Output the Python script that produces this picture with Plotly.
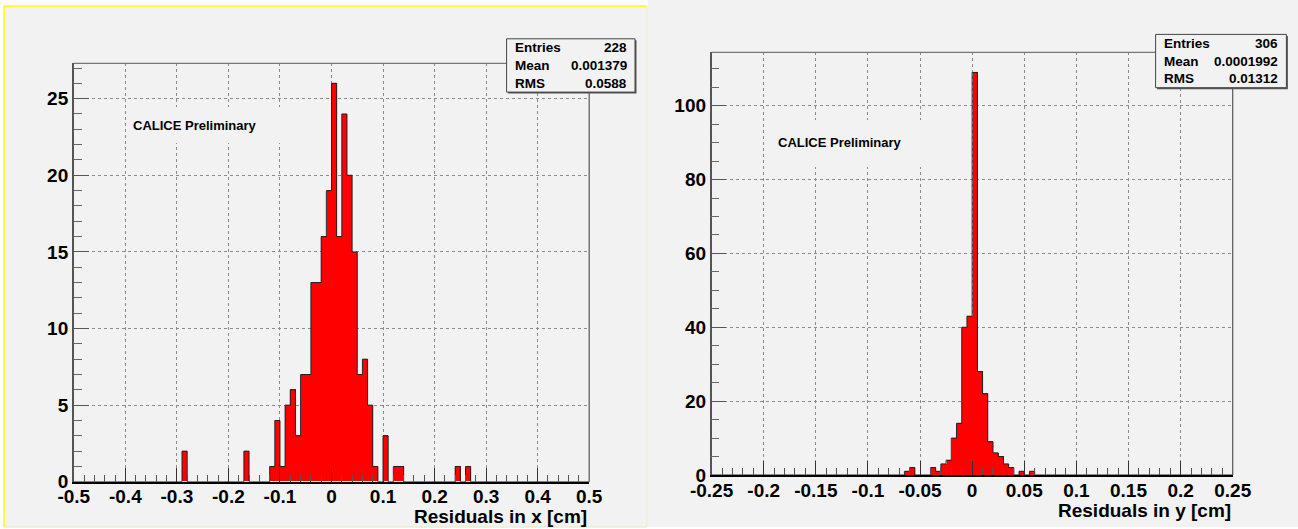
import numpy as np
import plotly.graph_objects as go

# ---------------- data: residual histograms ----------------
# x residuals: 100 bins of 0.01 cm on [-0.5, 0.5]; only non-empty bins listed (bin low edge, count)
x_range = (-0.5, 0.5)
x_bin_width = 0.01
x_bin_low = [-0.29, -0.17, -0.12, -0.11, -0.10, -0.09, -0.08, -0.07, -0.06, -0.05,
             -0.04, -0.03, -0.02, -0.01, 0.00, 0.01, 0.02, 0.03, 0.04, 0.05,
             0.06, 0.07, 0.08, 0.10, 0.12, 0.13, 0.24, 0.26]
x_counts = [2, 2, 1, 4, 1, 5, 6, 3, 7, 7,
            13, 13, 16, 19, 26, 16, 24, 20, 15, 7,
            8, 5, 1, 3, 1, 1, 1, 1]
x_stats = [("Entries", "228"), ("Mean", "0.001379"), ("RMS", "0.0588")]
x_ticks = [-0.5, -0.4, -0.3, -0.2, -0.1, 0, 0.1, 0.2, 0.3, 0.4, 0.5]
x_tick_labels = ["-0.5", "-0.4", "-0.3", "-0.2", "-0.1", "0", "0.1", "0.2", "0.3", "0.4", "0.5"]
x_count_ticks = [0, 5, 10, 15, 20, 25]

# y residuals: 100 bins of 0.005 cm on [-0.25, 0.25]
y_range = (-0.25, 0.25)
y_bin_width = 0.005
y_bin_low = [-0.065, -0.060, -0.040, -0.035, -0.030, -0.025, -0.020, -0.015, -0.010, -0.005,
             0.000, 0.005, 0.010, 0.015, 0.020, 0.025, 0.030, 0.035, 0.045, 0.055]
y_counts = [1, 2, 2, 1, 3, 4, 10, 14, 40, 43,
            109, 28, 22, 9, 6, 5, 3, 2, 1, 1]
y_stats = [("Entries", "306"), ("Mean", "0.0001992"), ("RMS", "0.01312")]
y_ticks = [-0.25, -0.2, -0.15, -0.1, -0.05, 0, 0.05, 0.1, 0.15, 0.2, 0.25]
y_tick_labels = ["-0.25", "-0.2", "-0.15", "-0.1", "-0.05", "0", "0.05", "0.1", "0.15", "0.2", "0.25"]
y_count_ticks = [0, 20, 40, 60, 80, 100]

# ---------------- helpers ----------------
W, H = 1298, 529
BG = "#f2f2f2"
FONT = "Liberation Sans"


def px(x):
    return x / W


def py(y):
    return 1 - y / H


def fill_bins(lo, hi, width, lows, counts):
    n = int(round((hi - lo) / width))
    edges = lo + width * np.arange(n + 1)
    full = np.zeros(n)
    for l, c in zip(lows, counts):
        full[int(round((l - lo) / width))] = c
    return edges, full


def outline(edges, counts):
    xs, ys = [edges[0]], [0.0]
    for i, c in enumerate(counts):
        xs += [edges[i], edges[i + 1]]
        ys += [c, c]
    xs.append(edges[-1])
    ys.append(0.0)
    return xs, ys


fig = go.Figure()

panels = [
    dict(edges_counts=fill_bins(*x_range, x_bin_width, x_bin_low, x_counts), width=x_bin_width,
         xa="x", ya="y"),
    dict(edges_counts=fill_bins(*y_range, y_bin_width, y_bin_low, y_counts), width=y_bin_width,
         xa="x2", ya="y2"),
]

for p in panels:
    edges, full = p["edges_counts"]
    centers = 0.5 * (edges[:-1] + edges[1:])
    fig.add_trace(go.Bar(x=centers, y=full, width=p["width"], marker=dict(color="#ff0000", line=dict(width=0)),
                         xaxis=p["xa"], yaxis=p["ya"], showlegend=False, hoverinfo="skip"))
    ox, oy = outline(edges, full)
    fig.add_trace(go.Scatter(x=ox, y=oy, mode="lines", line=dict(color="#222222", width=1),
                             xaxis=p["xa"], yaxis=p["ya"], showlegend=False, hoverinfo="skip"))

# plot-frame pixel geometry
L = dict(x0=73.8, x1=589.2, y0=63.4, y1=481.8)
R = dict(x0=711.6, x1=1232.7, y0=52.3, y1=475.0)

tickfont = dict(family=FONT, size=19, color="black", weight="bold")
grid = dict(showgrid=True, gridcolor="#8c8c8c", griddash="dot", gridwidth=1, zeroline=False)


def xaxis_cfg(frame, rng, ticks, labels, minor_dt):
    return dict(domain=[px(frame["x0"]), px(frame["x1"])], range=list(rng), tickmode="array",
                tickvals=ticks, ticktext=labels, ticks="inside", ticklen=14, tickwidth=1,
                tickcolor="#333333", tickfont=tickfont, ticklabelstandoff=-3,
                showline=True, linecolor="black", linewidth=1.5,
                minor=dict(tickmode="linear", tick0=rng[0], dtick=minor_dt, ticks="inside", ticklen=7,
                           tickwidth=1, tickcolor="#555555", showgrid=False),
                automargin=False, fixedrange=True, **grid)


def yaxis_cfg(frame, top, ticks, minor_dt):
    return dict(domain=[py(frame["y1"]), py(frame["y0"])], range=[0, top], tickmode="array",
                tickvals=ticks, ticktext=[str(t) for t in ticks], ticks="inside", ticklen=15, tickwidth=1,
                tickcolor="#555555", tickfont=tickfont, showline=True, linecolor="#555555", linewidth=1.5,
                minor=dict(tickmode="linear", tick0=0, dtick=minor_dt, ticks="inside", ticklen=8,
                           tickwidth=1, tickcolor="#666666", showgrid=False),
                automargin=False, fixedrange=True, **grid)


shapes = []
annotations = []

# canvas backgrounds
shapes.append(dict(type="rect", xref="paper", yref="paper", x0=px(4), x1=px(647), y0=py(527), y1=py(6),
                   fillcolor=BG, line=dict(width=0), layer="below"))
shapes.append(dict(type="rect", xref="paper", yref="paper", x0=px(648), x1=px(1298), y0=py(527), y1=py(0),
                   fillcolor=BG, line=dict(width=0), layer="below"))
# highlighted border of the first canvas
for (a, b, c, d, col) in [(4, 6, 647, 6, "#ffff00"), (4, 6, 4, 527, "#ffff00"),
                          (647, 6, 647, 527, "#eeeecc"), (4, 527, 647, 527, "#eeeecc")]:
    shapes.append(dict(type="line", xref="paper", yref="paper", x0=px(a), y0=py(b), x1=px(c), y1=py(d),
                       line=dict(color=col, width=1.5), layer="above"))

for frame, calice_box, calice_xy, stats, box, rows, title, title_y in [
    (L, (127, 107, 300, 143), (131, 125), x_stats, (506.6, 38.8, 635, 92.1), (48, 66, 83.5),
     "Residuals in x [cm]", 516),
    (R, (765, 120, 935, 167), (776, 142.5), y_stats, (1155.6, 34.4, 1286.4, 87.7), (43, 61.6, 79),
     "Residuals in y [cm]", 510),
]:
    # top and right edges of the frame
    shapes.append(dict(type="line", xref="paper", yref="paper", x0=px(frame["x0"]), y0=py(frame["y0"]),
                       x1=px(frame["x1"]), y1=py(frame["y0"]), line=dict(color="#777777", width=1.2)))
    shapes.append(dict(type="line", xref="paper", yref="paper", x0=px(frame["x1"]), y0=py(frame["y0"]),
                       x1=px(frame["x1"]), y1=py(frame["y1"]), line=dict(color="#555555", width=1.2)))
    # label pad covering the grid
    bx0, by0, bx1, by1 = calice_box
    shapes.append(dict(type="rect", xref="paper", yref="paper", x0=px(bx0), x1=px(bx1), y0=py(by1), y1=py(by0),
                       fillcolor=BG, line=dict(width=0), layer="above"))
    annotations.append(dict(xref="paper", yref="paper", x=px(calice_xy[0]), y=py(calice_xy[1]),
                            xanchor="left", yanchor="middle", showarrow=False, text="CALICE Preliminary",
                            font=dict(family=FONT, size=13, color="black", weight="bold")))
    # statistics box with shadow
    sx0, sy0, sx1, sy1 = box
    shapes.append(dict(type="rect", xref="paper", yref="paper", x0=px(sx0 + 1.5), x1=px(sx1 + 1.5),
                       y0=py(sy1 + 1.5), y1=py(sy0 + 1.5), fillcolor="#555555", line=dict(width=0), layer="above"))
    shapes.append(dict(type="rect", xref="paper", yref="paper", x0=px(sx0), x1=px(sx1), y0=py(sy1), y1=py(sy0),
                       fillcolor=BG, line=dict(color="#444444", width=1), layer="above"))
    for (name, val), ry in zip(stats, rows):
        annotations.append(dict(xref="paper", yref="paper", x=px(sx0 + 6.5), y=py(ry), xanchor="left",
                                yanchor="middle", showarrow=False, text=name,
                                font=dict(family=FONT, size=13.5, color="black", weight="bold")))
        annotations.append(dict(xref="paper", yref="paper", x=px(sx1 - 6), y=py(ry), xanchor="right",
                                yanchor="middle", showarrow=False, text=val,
                                font=dict(family=FONT, size=13.5, color="black", weight="bold")))
    # axis title
    annotations.append(dict(xref="paper", yref="paper", x=px(frame["x1"]), y=py(title_y), xanchor="right",
                            yanchor="middle", showarrow=False, text=title,
                            font=dict(family=FONT, size=19, color="black", weight="bold")))

fig.update_layout(
    width=W, height=H, margin=dict(l=0, r=0, t=0, b=0, autoexpand=False),
    paper_bgcolor="white", plot_bgcolor=BG, bargap=0, barmode="overlay",
    xaxis=dict(anchor="y", **xaxis_cfg(L, x_range, x_ticks, x_tick_labels, 0.02)),
    yaxis=dict(anchor="x", **yaxis_cfg(L, max(x_counts) * 1.05, x_count_ticks, 1)),
    xaxis2=dict(anchor="y2", **xaxis_cfg(R, y_range, y_ticks, y_tick_labels, 0.01)),
    yaxis2=dict(anchor="x2", **yaxis_cfg(R, max(y_counts) * 1.05, y_count_ticks, 5)),
    shapes=shapes, annotations=annotations,
    font=dict(family=FONT),
)

fig.write_html("out.html")
